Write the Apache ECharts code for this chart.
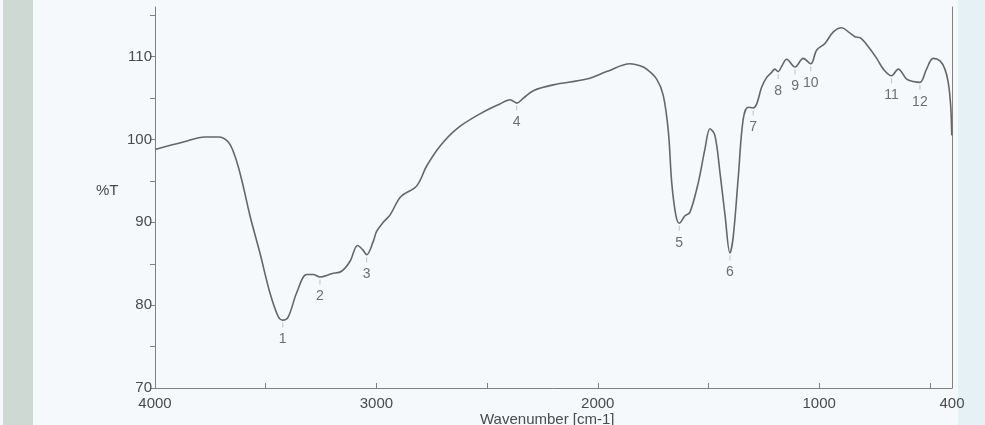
<!DOCTYPE html>
<html>
<head>
<meta charset="utf-8">
<script src="https://cdn.jsdelivr.net/npm/echarts@6/dist/echarts.min.js"></script>
<style>
  html, body { margin: 0; padding: 0; background: #f5f9fb; }
  #chart { width: 985px; height: 425px; }
</style>
</head>
<body>
<div id="chart"></div>
<script>
// wavenumber (cm-1) and transmittance
const wavenumbers = [
  4000, 3872, 3774, 3714, 3669, 3639, 3609, 3571, 3526, 3481, 3443, 3423, 3398, 3360,
  3315, 3285, 3255, 3202, 3157, 3119, 3085, 3062, 3044, 3014, 2999, 2969, 2938, 2890,
  2818, 2773, 2713, 2637, 2532, 2442, 2396, 2366, 2336, 2291, 2201, 2050, 1960, 1854,
  1809, 1779, 1734, 1704, 1681, 1666, 1647, 1632, 1606, 1584, 1546, 1516, 1493, 1471,
  1448, 1425, 1403, 1388, 1365, 1343, 1320, 1298, 1282, 1260, 1237, 1215, 1200, 1185,
  1170, 1147, 1109, 1072, 1038, 1011, 974, 936, 898, 868, 838, 816, 778, 740,
  710, 673, 643, 605, 575, 545, 515, 485, 454, 432, 417, 406, 401
];
const transmittance = [
  98.8, 99.7, 100.3, 100.3, 99.7, 98.0, 95.2, 90.8, 86.3, 81.5, 78.6, 78.2, 78.6, 81.5,
  83.7, 83.7, 83.4, 83.8, 84.1, 85.3, 87.2, 86.7, 86.1, 87.7, 88.9, 90.0, 90.9, 93.1,
  94.4, 96.8, 99.2, 101.3, 103.1, 104.3, 104.8, 104.4, 105.0, 105.9, 106.6, 107.3, 108.2, 109.15,
  108.9, 108.5, 107.3, 105.3, 100.9, 94.8, 90.8, 89.9, 90.8, 91.2, 94.8, 98.85, 101.3, 100.5,
  96.0, 90.8, 86.3, 88.3, 95.6, 102.5, 103.9, 103.8, 104.3, 106.3, 107.5, 108.1, 108.5, 108.2,
  108.8, 109.7, 108.75, 109.8, 109.15, 110.8, 111.6, 113.0, 113.5, 113.0, 112.4, 112.3, 111.2, 109.8,
  108.5, 107.7, 108.5, 107.3, 107.0, 106.9, 108.5, 109.8, 109.5, 108.5, 106.9, 104.1, 100.5
];

// numbered absorption bands
const peakNames = ['1', '2', '3', '4', '5', '6', '7', '8', '9', '10', '11', '12'];
const peakWavenumbers = [3423, 3255, 3044, 2366, 1632, 1403, 1298, 1185, 1109, 1038, 673, 545];
const peakTransmittance = [78.2, 83.4, 86.1, 104.4, 89.9, 86.3, 103.8, 108.2, 108.75, 109.15, 107.7, 106.9];

// axis ticks and labels
const xTicks = [4000, 3500, 3000, 2500, 2000, 1500, 1000, 500];
const xLabels = [4000, 3000, 2000, 1000, 400];
const yTicks = [70, 75, 80, 85, 90, 95, 100, 105, 110, 115];
const yLabels = [70, 80, 90, 100, 110];

const textColor = '#4a4a4a';
const axisColor = '#808080';
const font = 'Liberation Sans, Arial, sans-serif';

const spectrum = wavenumbers.map((w, i) => [w, transmittance[i]]);
const peaks = peakWavenumbers.map((w, i) => ({ value: [w, peakTransmittance[i]], name: peakNames[i] }));

const chart = echarts.init(document.getElementById('chart'));

chart.setOption({
  backgroundColor: '#f5f9fb',
  animation: false,
  graphic: [
    { type: 'rect', left: 3, top: 0, shape: { width: 30, height: 425 }, style: { fill: '#cfd9d4' }, z: -10 },
    { type: 'rect', left: 958, top: 0, shape: { width: 27, height: 425 }, style: { fill: '#e6f1f5' }, z: -10 },
    { type: 'text', left: 96, top: 183, style: { text: '%T', font: '15px ' + font, fill: textColor } },
    { type: 'text', left: 480, top: 412, style: { text: 'Wavenumber [cm-1]', font: '15px ' + font, fill: textColor } }
  ],
  grid: { left: 155, right: 33, top: 7, bottom: 37 },
  xAxis: {
    type: 'value',
    inverse: true,
    min: 400,
    max: 4000,
    splitLine: { show: false },
    axisLine: { lineStyle: { color: axisColor, width: 1 } },
    axisTick: { inside: true, length: 5, customValues: xTicks, lineStyle: { color: axisColor } },
    axisLabel: {
      customValues: xLabels,
      formatter: v => String(v),
      margin: 8,
      color: textColor,
      fontSize: 15,
      fontFamily: font
    }
  },
  yAxis: [
    {
      type: 'value',
      min: 70,
      max: 116,
      splitLine: { show: false },
      axisLine: { show: true, lineStyle: { color: axisColor, width: 1 } },
      axisTick: { length: 5, customValues: yTicks, lineStyle: { color: axisColor } },
      axisLabel: {
        customValues: yLabels,
        formatter: v => String(v),
        margin: 3,
        color: textColor,
        fontSize: 15,
        fontFamily: font
      }
    },
    {
      type: 'value',
      position: 'right',
      min: 70,
      max: 116,
      splitLine: { show: false },
      axisLine: { show: true, lineStyle: { color: axisColor, width: 1 } },
      axisTick: { show: false },
      axisLabel: { show: false }
    }
  ],
  series: [
    {
      type: 'line',
      data: spectrum,
      smooth: 0.35,
      showSymbol: false,
      lineStyle: { color: '#666666', width: 1.6 },
      z: 3
    },
    {
      type: 'scatter',
      data: peaks,
      symbol: 'rect',
      symbolSize: [1, 5],
      symbolOffset: [0, 5],
      itemStyle: { color: '#b5b5b5' },
      label: {
        show: true,
        position: 'bottom',
        distance: 5,
        formatter: p => p.name,
        color: textColor,
        fontSize: 14,
        fontFamily: font
      },
      z: 2
    }
  ]
});
</script>
</body>
</html>
